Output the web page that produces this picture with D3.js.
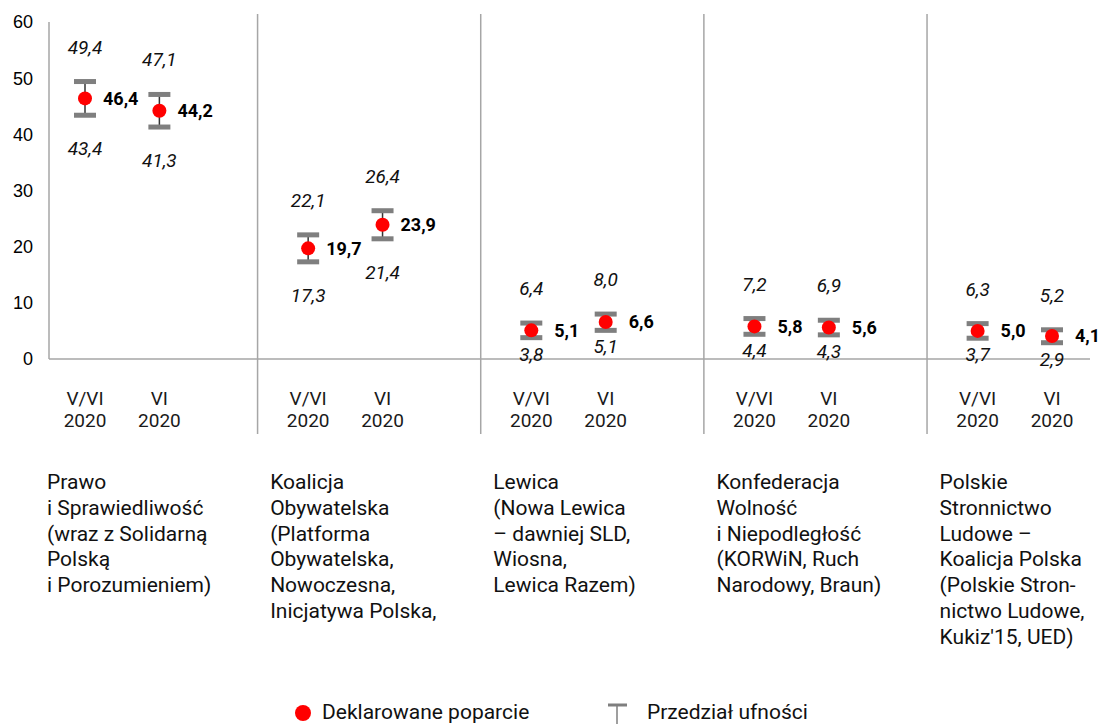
<!DOCTYPE html>
<html>
<head>
<meta charset="utf-8">
<script src="https://cdn.jsdelivr.net/npm/d3@7"></script>
<style>
  body { margin: 0; background: #fff; }
  svg { display: block; }
  .tick-y { font-family: "Liberation Sans", Arial, sans-serif; font-size: 18px; fill: #000; }
  .tick-x { font-family: Roboto, sans-serif; font-size: 19px; fill: #1a1a1a; }
  .group-label { font-family: Roboto, sans-serif; font-size: 21px; fill: #111; }
  .val { font-family: Roboto, sans-serif; font-size: 18px; font-weight: bold; fill: #000; }
  .ci { font-family: Roboto, sans-serif; font-size: 19px; font-style: italic; fill: #111; }
  .legend { font-family: Roboto, sans-serif; font-size: 21px; fill: #111; }
</style>
</head>
<body>
<div id="chart"></div>
<script>
const groups = [
  ["Prawo", "i Sprawiedliwość", "(wraz z Solidarną", "Polską", "i Porozumieniem)"],
  ["Koalicja", "Obywatelska", "(Platforma", "Obywatelska,", "Nowoczesna,", "Inicjatywa Polska,"],
  ["Lewica", "(Nowa Lewica", "– dawniej SLD,", "Wiosna,", "Lewica Razem)"],
  ["Konfederacja", "Wolność", "i Niepodległość", "(KORWiN, Ruch", "Narodowy, Braun)"],
  ["Polskie", "Stronnictwo", "Ludowe –", "Koalicja Polska", "(Polskie Stron-", "nictwo Ludowe,", "Kukiz'15, UED)"]
];
const periods = [["V/VI", "2020"], ["VI", "2020"]];
const support = [[46.4, 44.2], [19.7, 23.9], [5.1, 6.6], [5.8, 5.6], [5.0, 4.1]];
const lower   = [[43.4, 41.3], [17.3, 21.4], [3.8, 5.1], [4.4, 4.3], [3.7, 2.9]];
const upper   = [[49.4, 47.1], [22.1, 26.4], [6.4, 8.0], [7.2, 6.9], [6.3, 5.2]];
const yTicks = [0, 10, 20, 30, 40, 50, 60];
const legendItems = ["Deklarowane poparcie", "Przedział ufności"];

const width = 1101, height = 724;
const fmt = v => d3.format(".1f")(v).replace(".", ",");

const svg = d3.select("#chart")
  .append("svg")
    .attr("width", width)
    .attr("height", height);

// one slot per point, a blank slot between parties
const x = d3.scaleLinear().domain([0, 13]).range([85, 1052]);
const y = d3.scaleLinear().domain([0, 60]).range([359, 22]);

const points = [];
support.forEach((row, g) => {
  row.forEach((v, p) => {
    points.push({ g, p, slot: g * 3 + p, v, lo: lower[g][p], hi: upper[g][p] });
  });
});

// axes
svg.append("line")
  .attr("x1", 49).attr("x2", 49)
  .attr("y1", y(60)).attr("y2", y(0))
  .attr("stroke", "#a6a6a6").attr("stroke-width", 1.5);

svg.append("line")
  .attr("x1", 49).attr("x2", 1090)
  .attr("y1", y(0)).attr("y2", y(0))
  .attr("stroke", "#a6a6a6").attr("stroke-width", 1.5);

svg.selectAll("text.tick-y")
  .data(yTicks)
  .join("text")
    .attr("class", "tick-y")
    .attr("x", 33)
    .attr("y", d => y(d))
    .attr("dy", "0.36em")
    .attr("text-anchor", "end")
    .text(d => d);

// party separators
svg.selectAll("line.sep")
  .data(d3.range(groups.length - 1))
  .join("line")
    .attr("class", "sep")
    .attr("x1", g => x(g * 3 + 2.32))
    .attr("x2", g => x(g * 3 + 2.32))
    .attr("y1", 14)
    .attr("y2", 434)
    .attr("stroke", "#a6a6a6")
    .attr("stroke-width", 1.5);

// period labels
const xt = svg.selectAll("g.tick-x-g")
  .data(points)
  .join("g")
    .attr("class", "tick-x-g")
    .attr("transform", d => `translate(${x(d.slot)},0)`);

xt.selectAll("text")
  .data(d => periods[d.p].map((t, i) => ({ t, i })))
  .join("text")
    .attr("class", "tick-x")
    .attr("text-anchor", "middle")
    .attr("y", d => 405 + d.i * 22)
    .text(d => d.t);

// error bars
const capW = 22;
const bars = svg.selectAll("g.bar")
  .data(points)
  .join("g")
    .attr("class", "bar");

bars.append("line")
  .attr("x1", d => x(d.slot)).attr("x2", d => x(d.slot))
  .attr("y1", d => y(d.hi)).attr("y2", d => y(d.lo))
  .attr("stroke", "#333").attr("stroke-width", 1.5);

bars.selectAll("line.cap")
  .data(d => [d.hi, d.lo].map(v => ({ v, cx: x(d.slot) })))
  .join("line")
    .attr("class", "cap")
    .attr("x1", d => d.cx - capW / 2).attr("x2", d => d.cx + capW / 2)
    .attr("y1", d => y(d.v)).attr("y2", d => y(d.v))
    .attr("stroke", "#7f7f7f").attr("stroke-width", 5);

bars.append("circle")
  .attr("cx", d => x(d.slot))
  .attr("cy", d => y(d.v))
  .attr("r", 7)
  .attr("fill", "#ff0000");

// value labels
bars.append("text")
  .attr("class", "val")
  .attr("x", d => x(d.slot) + (d.v < 10 ? 23 : 18))
  .attr("y", d => y(d.v))
  .attr("dy", "0.36em")
  .text(d => fmt(d.v));

bars.append("text")
  .attr("class", "ci")
  .attr("x", d => x(d.slot))
  .attr("y", d => y(d.hi) - 28)
  .attr("text-anchor", "middle")
  .text(d => fmt(d.hi));

bars.append("text")
  .attr("class", "ci")
  .attr("x", d => x(d.slot))
  .attr("y", d => y(d.lo) + (d.lo < 10 ? 23 : 40))
  .attr("text-anchor", "middle")
  .text(d => fmt(d.lo));

// party names
const gl = svg.selectAll("text.group-label")
  .data(groups)
  .join("text")
    .attr("class", "group-label")
    .attr("x", (d, g) => x(g * 3) - 38)
    .attr("y", 489);

gl.selectAll("tspan")
  .data(d => d)
  .join("tspan")
    .attr("x", function() { return this.parentNode.getAttribute("x"); })
    .attr("dy", (d, i) => i === 0 ? 0 : 25.8)
    .text(d => d);

// legend
const leg = svg.append("g");
leg.append("circle")
  .attr("cx", 303).attr("cy", 713).attr("r", 8)
  .attr("fill", "#ff0000");
leg.append("text")
  .attr("class", "legend")
  .attr("x", 322).attr("y", 719)
  .text(legendItems[0]);

leg.append("line")
  .attr("x1", 617).attr("x2", 617)
  .attr("y1", 704).attr("y2", 724)
  .attr("stroke", "#7f7f7f").attr("stroke-width", 1.5);
leg.append("line")
  .attr("x1", 608).attr("x2", 627)
  .attr("y1", 705).attr("y2", 705)
  .attr("stroke", "#7f7f7f").attr("stroke-width", 3);
leg.append("text")
  .attr("class", "legend")
  .attr("x", 647).attr("y", 719)
  .text(legendItems[1]);
</script>
</body>
</html>
